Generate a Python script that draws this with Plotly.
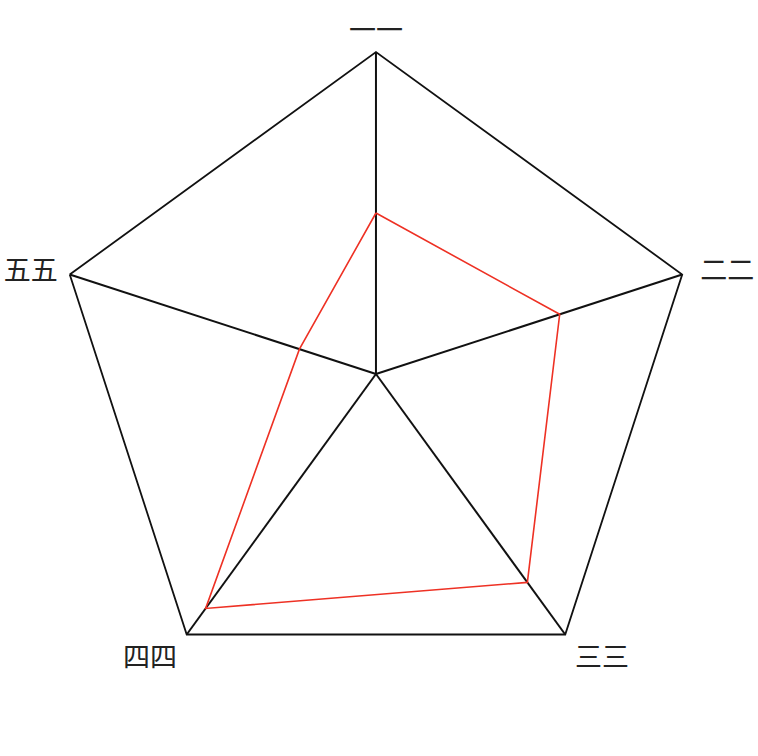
import plotly.graph_objects as go

categories = ["一一", "二二", "三三", "四四", "五五"]
values = [50, 60, 80, 90, 25]
max_value = 100
# label text shown at each spoke (padding keeps side labels off the vertices)
tick_labels = ["一一", "\u00a0\u00a0二二", "\u00a0三三", "四四\u00a0", "五五\u00a0"]

theta = categories + [categories[0]]
r = values + [values[0]]

fig = go.Figure()
fig.add_trace(go.Scatterpolar(
    r=r, theta=theta, mode="lines",
    line=dict(color="#ee3124", width=1.6),
    showlegend=False, hoverinfo="skip",
))

fig.update_layout(
    width=758, height=756,
    margin=dict(l=0, r=0, t=0, b=0),
    paper_bgcolor="white",
    plot_bgcolor="white",
    font=dict(family="Noto Sans CJK SC", size=27, color="#222222"),
    polar=dict(
        domain=dict(x=[0.0712, 0.9208], y=[0.0794, 0.9312]),
        bgcolor="white",
        gridshape="linear",
        radialaxis=dict(range=[0, max_value], visible=True, showgrid=False,
                        showline=False, showticklabels=False, ticks=""),
        angularaxis=dict(direction="clockwise", rotation=90,
                         tickmode="array", tickvals=categories, ticktext=tick_labels,
                         showline=True, linecolor="#111111", linewidth=1.8,
                         showgrid=True, gridcolor="#111111", gridwidth=1.8,
                         ticks="", tickfont=dict(size=27, color="#222222")),
    ),
)

fig.write_html(
    "out.html",
    config={"displayModeBar": False},
    post_script="document.body.style.margin='0';document.body.style.overflow='hidden';",
)
